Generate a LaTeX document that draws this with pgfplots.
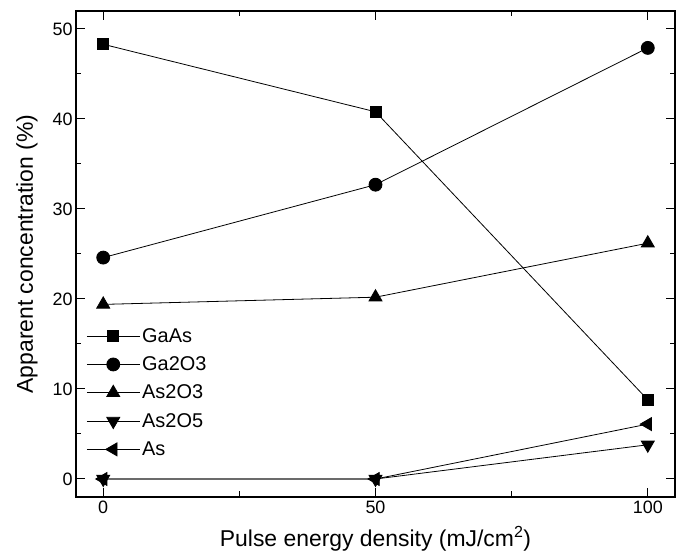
\documentclass[border=0pt]{standalone}
\usepackage{fontspec}
\setmainfont{Liberation Sans}
\usepackage{pgfplots}
\pgfplotsset{compat=1.18}
\begin{document}
\begin{tikzpicture}
\begin{axis}[
  scale only axis,
  width=599bp, height=486bp,
  xmin=-5, xmax=105, ymin=-2, ymax=52,
  xtick={0,50,100}, minor xtick={25,75},
  ytick={0,10,20,30,40,50}, minor ytick={5,15,25,35,45},
  tick align=inside,
  major tick length=9bp, minor tick length=5.5bp,
  every tick/.style={black, line width=1bp},
  axis line style={line width=1.4bp},
  /pgf/number format/assume math mode=true,
  tick label style={font=\fontsize{18}{21}\selectfont},
  label style={font=\fontsize{23}{27}\selectfont},
  xlabel={Pulse energy density (mJ/cm\textsuperscript{2})},
  ylabel={Apparent concentration (\%)},
  xlabel style={yshift=-6bp},
  ylabel style={yshift=8bp},
  legend style={draw=none, fill=none, at={(0.012,0.356)}, anchor=north west,
    font=\fontsize{20}{23}\selectfont, nodes={text height=14bp, text depth=2bp, inner sep=2bp}, row sep=8.3bp},
  legend cell align=left,
  legend image code/.code={\draw[mark repeat=2,mark phase=2,#1] plot coordinates {(0bp,0bp) (26.5bp,0bp) (53bp,0bp)};},
]
\addplot[black, line width=0.8bp, mark=square*, mark size=5.5bp, mark options={solid,fill=black}] coordinates {(0,48.3) (50,40.8) (100,8.8)};
\addlegendentry{GaAs}
\addplot[black, line width=0.8bp, mark=*, mark size=6.5bp, mark options={solid,fill=black}] coordinates {(0,24.6) (50,32.7) (100,47.9)};
\addlegendentry{Ga2O3}
\addplot[black, line width=0.8bp, mark=triangle*, mark size=7.5bp, mark options={solid,fill=black}] coordinates {(0,19.4) (50,20.2) (100,26.2)};
\addlegendentry{As2O3}
\addplot[black, line width=0.8bp, mark=triangle*, mark size=7.5bp, mark options={solid,fill=black,rotate=180}] coordinates {(0,0) (50,0) (100,3.8)};
\addlegendentry{As2O5}
\addplot[black, line width=0.8bp, mark=triangle*, mark size=7.5bp, mark options={solid,fill=black,rotate=90}] coordinates {(0,0) (50,0) (100,6.1)};
\addlegendentry{As}
\end{axis}
\path ([shift={(-76bp,-56bp)}]current axis.south west) rectangle ([shift={(1bp,11bp)}]current axis.north east);
\end{tikzpicture}
\end{document}
